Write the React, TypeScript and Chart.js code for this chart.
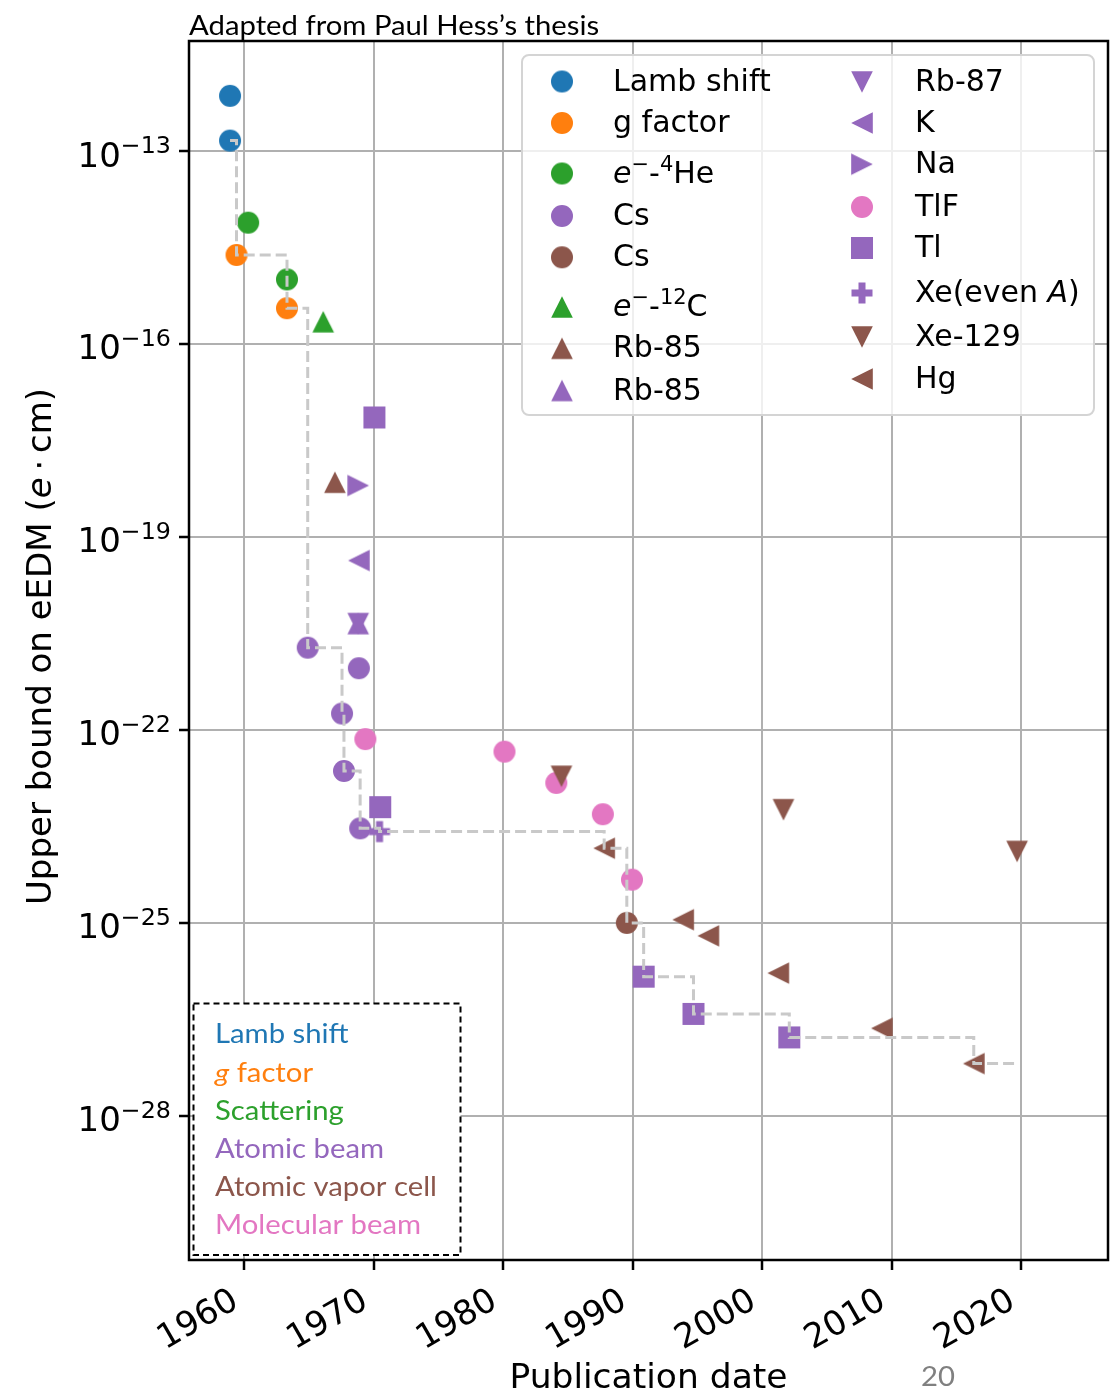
import React, { useEffect, useRef } from 'react';
import { Chart, registerables } from 'chart.js';

Chart.register(...registerables);

// Publication year of each measurement and its upper bound on the eEDM (e·cm)
const LAMB_YEARS = [1958.9, 1958.9];
const LAMB_BOUNDS = [1.45e-13, 7.2e-13];
const GFACTOR_YEARS = [1959.4, 1963.3];
const GFACTOR_BOUNDS = [2.42e-15, 3.6e-16];
const HE4_YEARS = [1960.3, 1963.3];
const HE4_BOUNDS = [7.7e-15, 1.01e-15];
const CS_BEAM_YEARS = [1964.9, 1967.55, 1967.7, 1968.85, 1968.95];
const CS_BEAM_BOUNDS = [1.9e-21, 1.8e-22, 2.3e-23, 9.1e-22, 2.95e-24];
const CS_CELL_YEARS = [1989.55];
const CS_CELL_BOUNDS = [1.0e-25];
const C12_YEARS = [1966.1];
const C12_BOUNDS = [2.22e-16];
const RB85_CELL_YEARS = [1967.0];
const RB85_CELL_BOUNDS = [7.1e-19];
const RB85_BEAM_YEARS = [1968.8];
const RB85_BEAM_BOUNDS = [4.5e-21];
const RB87_YEARS = [1968.8];
const RB87_BOUNDS = [4.5e-21];
const K_YEARS = [1968.85];
const K_BOUNDS = [4.3e-20];
const NA_YEARS = [1968.8];
const NA_BOUNDS = [6.3e-19];
const TLF_YEARS = [1969.35, 1980.1, 1984.1, 1987.7, 1989.95];
const TLF_BOUNDS = [7.2e-23, 4.6e-23, 1.5e-23, 4.9e-24, 4.7e-25];
const TL_YEARS = [1970.05, 1970.5, 1990.85, 1994.7, 2002.1];
const TL_BOUNDS = [7.2e-18, 6.3e-24, 1.46e-26, 3.85e-27, 1.66e-27];
const XE_EVEN_YEARS = [1970.45];
const XE_EVEN_BOUNDS = [2.63e-24];
const XE129_YEARS = [1984.5, 2001.65, 2019.7];
const XE129_BOUNDS = [1.9e-23, 5.75e-24, 1.29e-24];
const HG_YEARS = [1987.8, 1993.9, 1995.85, 2001.25, 2009.25, 2016.35];
const HG_BOUNDS = [1.45e-24, 1.12e-25, 6.3e-26, 1.66e-26, 2.3e-27, 6.5e-28];

// Axis ticks and ranges
const X_TICKS = [1960, 1970, 1980, 1990, 2000, 2010, 2020];
const Y_TICKS = [1e-28, 1e-25, 1e-22, 1e-19, 1e-16, 1e-13];
const X_RANGE = [1955.73, 2026.72];
const Y_RANGE = [5.75e-31, 5.13e-12];

// Method categories (colour key box)
const METHOD_LABELS = ['Lamb shift', '{i:g} factor', 'Scattering', 'Atomic beam', 'Atomic vapor cell', 'Molecular beam'];

const TITLE = 'Adapted from Paul Hess\u2019s thesis';
const X_TITLE = 'Publication date';
const Y_TITLE = 'Upper bound on eEDM ({i:e}\u2009\u22C5\u2009cm)';
const PAGE_NUMBER = '20';

const COL = {
  blue: '#1f77b4',
  orange: '#ff7f0e',
  green: '#2ca02c',
  purple: '#9467bd',
  brown: '#8c564b',
  pink: '#e377c2',
};
const METHOD_COLORS = [COL.blue, COL.orange, COL.green, COL.purple, COL.brown, COL.pink];

// {i:..} italic, {s:..} superscript
const SERIES = [
  { label: 'Lamb shift', years: LAMB_YEARS, bounds: LAMB_BOUNDS, color: COL.blue, marker: 'o' },
  { label: 'g factor', years: GFACTOR_YEARS, bounds: GFACTOR_BOUNDS, color: COL.orange, marker: 'o' },
  { label: '{i:e}{s:\u2212}-{s:4}He', years: HE4_YEARS, bounds: HE4_BOUNDS, color: COL.green, marker: 'o' },
  { label: 'Cs', years: CS_BEAM_YEARS, bounds: CS_BEAM_BOUNDS, color: COL.purple, marker: 'o' },
  { label: 'Cs', years: CS_CELL_YEARS, bounds: CS_CELL_BOUNDS, color: COL.brown, marker: 'o' },
  { label: '{i:e}{s:\u2212}-{s:12}C', years: C12_YEARS, bounds: C12_BOUNDS, color: COL.green, marker: '^' },
  { label: 'Rb-85', years: RB85_CELL_YEARS, bounds: RB85_CELL_BOUNDS, color: COL.brown, marker: '^' },
  { label: 'Rb-85', years: RB85_BEAM_YEARS, bounds: RB85_BEAM_BOUNDS, color: COL.purple, marker: '^' },
  { label: 'Rb-87', years: RB87_YEARS, bounds: RB87_BOUNDS, color: COL.purple, marker: 'v' },
  { label: 'K', years: K_YEARS, bounds: K_BOUNDS, color: COL.purple, marker: '<' },
  { label: 'Na', years: NA_YEARS, bounds: NA_BOUNDS, color: COL.purple, marker: '>' },
  { label: 'TlF', years: TLF_YEARS, bounds: TLF_BOUNDS, color: COL.pink, marker: 'o' },
  { label: 'Tl', years: TL_YEARS, bounds: TL_BOUNDS, color: COL.purple, marker: 's' },
  { label: 'Xe(even {i:A})', years: XE_EVEN_YEARS, bounds: XE_EVEN_BOUNDS, color: COL.purple, marker: 'P' },
  { label: 'Xe-129', years: XE129_YEARS, bounds: XE129_BOUNDS, color: COL.brown, marker: 'v' },
  { label: 'Hg', years: HG_YEARS, bounds: HG_BOUNDS, color: COL.brown, marker: '<' },
];

const FONT = '"DejaVu Sans", sans-serif';
const SLIDE_FONT = 'Lato, "Open Sans", sans-serif';

type Seg = { text: string; italic: boolean; sup: boolean };

function parseRich(s: string): Seg[] {
  const out: Seg[] = [];
  const re = /\{([is]):([^}]*)\}|([^{]+)/g;
  let m: RegExpExecArray | null;
  while ((m = re.exec(s))) {
    if (m[3] !== undefined) out.push({ text: m[3], italic: false, sup: false });
    else out.push({ text: m[2], italic: m[1] === 'i', sup: m[1] === 's' });
  }
  return out;
}

const plainText = (s: string) => parseRich(s).map((p) => p.text).join('');

function richWidth(ctx: CanvasRenderingContext2D, segs: Seg[], size: number, family: string, supScale = 0.7) {
  let w = 0;
  for (const p of segs) {
    ctx.font = `${p.italic ? 'italic ' : ''}${p.sup ? size * supScale : size}px ${family}`;
    w += ctx.measureText(p.text).width;
  }
  return w;
}

function drawRich(
  ctx: CanvasRenderingContext2D,
  segs: Seg[],
  x: number,
  baseline: number,
  size: number,
  family: string,
  supScale = 0.7,
  supRaise = 0.4,
) {
  let cx = x;
  ctx.textAlign = 'left';
  ctx.textBaseline = 'alphabetic';
  for (const p of segs) {
    const fs = p.sup ? size * supScale : size;
    ctx.font = `${p.italic ? 'italic ' : ''}${fs}px ${family}`;
    ctx.fillText(p.text, cx, baseline - (p.sup ? size * supRaise : 0));
    cx += ctx.measureText(p.text).width;
  }
  return cx - x;
}

// Filled marker glyphs in the style of matplotlib's o, s, ^, v, <, >, P
function markerCanvas(shape: string, color: string): HTMLCanvasElement {
  const n = 28;
  const c = document.createElement('canvas');
  c.width = n;
  c.height = n;
  const g = c.getContext('2d') as CanvasRenderingContext2D;
  g.translate(n / 2, n / 2);
  g.fillStyle = color;
  g.beginPath();
  const h = 10.8;
  if (shape === 'o') {
    g.arc(0, 0, 11, 0, Math.PI * 2);
  } else if (shape === 's') {
    g.rect(-11, -11, 22, 22);
  } else if (shape === 'P') {
    const a = 10.5;
    const b = a / 3;
    const pts = [[-b, -a], [b, -a], [b, -b], [a, -b], [a, b], [b, b], [b, a], [-b, a], [-b, b], [-a, b], [-a, -b], [-b, -b]];
    pts.forEach(([px, py], i) => (i ? g.lineTo(px, py) : g.moveTo(px, py)));
  } else {
    const tri: Record<string, number[][]> = {
      '^': [[0, -h], [h, h], [-h, h]],
      v: [[0, h], [h, -h], [-h, -h]],
      '<': [[-h, 0], [h, -h], [h, h]],
      '>': [[h, 0], [-h, -h], [-h, h]],
    };
    tri[shape].forEach(([px, py], i) => (i ? g.lineTo(px, py) : g.moveTo(px, py)));
  }
  g.closePath();
  g.fill();
  return c;
}

// Running best limit, as a post-step line through every publication date
function bestLimitPoints() {
  const all: { x: number; y: number }[] = [];
  SERIES.forEach((s) => s.years.forEach((yr, i) => all.push({ x: yr, y: s.bounds[i] })));
  all.sort((a, b) => a.x - b.x);
  let best = Infinity;
  return all.map((p) => {
    best = Math.min(best, p.y);
    return { x: p.x, y: best };
  });
}

const LEGEND_ROWS = [
  [81.5, 123, 173.5, 216, 257.3, 307, 348.3, 390.5],
  [82, 123, 164.2, 207, 248, 293, 337, 379],
];

const TICK_FONT_SIZE = 34;
const LABEL_FONT_SIZE = 34.5;
const LEGEND_FONT_SIZE = 30;

function makeOverlay(markers: HTMLCanvasElement[]) {
  return {
    id: 'eedmOverlay',
    afterDraw(chart: any) {
      const ctx: CanvasRenderingContext2D = chart.ctx;
      const area = chart.chartArea;
      const xs = chart.scales.x;
      const ys = chart.scales.y;
      ctx.save();

      // axes frame
      ctx.setLineDash([]);
      ctx.strokeStyle = '#000';
      ctx.lineWidth = 2.5;
      ctx.strokeRect(area.left, area.top, area.right - area.left, area.bottom - area.top);

      ctx.fillStyle = '#000';
      // y tick labels as powers of ten
      for (const t of ys.ticks) {
        const py = ys.getPixelForValue(t.value);
        const exp = Math.round(Math.log10(t.value));
        const expText = exp < 0 ? `\u2212${-exp}` : `${exp}`;
        const segs = parseRich(`10{s:${expText}}`);
        const w = richWidth(ctx, segs, TICK_FONT_SIZE, FONT);
        drawRich(ctx, segs, area.left - 18 - w, py + 15.5, TICK_FONT_SIZE, FONT, 0.7, 0.4);
      }

      // x tick labels, rotated 30 degrees and right-aligned to the tick
      const rot = Math.PI / 6;
      const fsx = TICK_FONT_SIZE;
      ctx.font = `${fsx}px ${FONT}`;
      for (const t of xs.ticks) {
        const px = xs.getPixelForValue(t.value);
        const label = String(t.value);
        const w = ctx.measureText(label).width;
        const asc = 0.76 * fsx;
        const desc = 0.24 * fsx;
        const ox = px - (Math.cos(rot) * w + Math.sin(rot) * desc);
        const oy = area.bottom + 24 + Math.sin(rot) * w + Math.cos(rot) * asc;
        ctx.save();
        ctx.translate(ox, oy);
        ctx.rotate(-rot);
        ctx.textAlign = 'left';
        ctx.textBaseline = 'alphabetic';
        ctx.fillText(label, 0, 0);
        ctx.restore();
      }

      // axis titles
      ctx.font = `${LABEL_FONT_SIZE}px ${FONT}`;
      ctx.textAlign = 'center';
      ctx.textBaseline = 'alphabetic';
      ctx.fillText(X_TITLE, (area.left + area.right) / 2, 1388);

      const ySegs = parseRich(Y_TITLE);
      const yw = richWidth(ctx, ySegs, 34, FONT);
      ctx.save();
      ctx.translate(51, (area.top + area.bottom) / 2 - 4 + yw / 2);
      ctx.rotate(-Math.PI / 2);
      drawRich(ctx, ySegs, 0, 0, 34, FONT);
      ctx.restore();

      // series legend
      const lx0 = 522, ly0 = 55, lx1 = 1094, ly1 = 415;
      ctx.beginPath();
      ctx.roundRect(lx0, ly0, lx1 - lx0, ly1 - ly0, 7);
      ctx.fillStyle = 'rgba(255,255,255,0.8)';
      ctx.fill();
      ctx.strokeStyle = '#d4d4d4';
      ctx.lineWidth = 2;
      ctx.stroke();
      SERIES.forEach((s, i) => {
        const col = i < 8 ? 0 : 1;
        const row = i % 8;
        const mx = col ? 862 : 562;
        const tx = col ? 915 : 613;
        const my = LEGEND_ROWS[col][row];
        const img = markers[i];
        ctx.drawImage(img, mx - img.width / 2, my - img.height / 2);
        ctx.fillStyle = '#000';
        drawRich(ctx, parseRich(s.label), tx, my + 9, LEGEND_FONT_SIZE, FONT, 0.7, 0.4);
      });

      // method colour key
      const bx0 = 193.5, by0 = 1003.5, bx1 = 460.5, by1 = 1255;
      ctx.fillStyle = '#fff';
      ctx.fillRect(bx0, by0, bx1 - bx0, by1 - by0);
      ctx.setLineDash([6, 4]);
      ctx.strokeStyle = '#000';
      ctx.lineWidth = 2;
      ctx.strokeRect(bx0, by0, bx1 - bx0, by1 - by0);
      ctx.setLineDash([]);

      const slideSize = 26;
      ctx.font = `${slideSize}px ${SLIDE_FONT}`;
      const k = 222 / ctx.measureText('Atomic vapor cell').width;
      const slideText = (markup: string, x: number, base: number, color: string) => {
        ctx.save();
        ctx.translate(x, base);
        ctx.scale(k, 1);
        ctx.fillStyle = color;
        drawRich(ctx, parseRich(markup), 0, 0, slideSize, SLIDE_FONT);
        ctx.restore();
      };
      METHOD_LABELS.forEach((m, i) => slideText(m, 215, 1043.3 + i * 38.2, METHOD_COLORS[i]));

      slideText(TITLE, 189, 35, '#000');
      slideText(PAGE_NUMBER, 921, 1386, '#808080');

      ctx.restore();
    },
  };
}

export default function App() {
  const ref = useRef<HTMLCanvasElement>(null);

  useEffect(() => {
    const canvas = ref.current;
    if (!canvas) return;
    const markers = SERIES.map((s) => markerCanvas(s.marker, s.color));

    const stepSet: any = {
      type: 'line',
      label: 'Best limit',
      data: bestLimitPoints(),
      borderColor: '#c9c9c9',
      borderWidth: 3,
      borderDash: [11, 5],
      stepped: 'before',
      pointRadius: 0,
      fill: false,
      order: 0,
    };

    const pointSets: any[] = SERIES.map((s, i) => ({
      type: 'scatter',
      label: plainText(s.label),
      data: s.years.map((yr, j) => ({ x: yr, y: s.bounds[j] })),
      pointStyle: markers[i],
      pointRadius: 11,
      pointHoverRadius: 11,
      backgroundColor: s.color,
      borderColor: s.color,
      order: 100 - i,
    }));

    const gridStyle = {
      color: '#b0b0b0',
      lineWidth: 2,
      drawTicks: true,
      tickLength: 10,
      tickColor: '#000',
      tickWidth: 2.5,
    };

    const chart = new Chart(canvas, {
      type: 'scatter',
      data: { datasets: [stepSet, ...pointSets] },
      options: {
        animation: false,
        responsive: false,
        devicePixelRatio: 1,
        events: [],
        layout: { autoPadding: false, padding: { left: 0, top: 41, right: 3, bottom: 0 } },
        plugins: { legend: { display: false }, tooltip: { enabled: false } },
        scales: {
          x: {
            type: 'linear',
            min: X_RANGE[0],
            max: X_RANGE[1],
            bounds: 'data',
            afterBuildTicks: (s: any) => {
              s.ticks = X_TICKS.map((v) => ({ value: v }));
            },
            afterFit: (s: any) => {
              s.height = 132;
            },
            ticks: { display: false },
            grid: gridStyle,
            border: { display: false },
          },
          y: {
            type: 'logarithmic',
            min: Y_RANGE[0],
            max: Y_RANGE[1],
            bounds: 'data',
            afterBuildTicks: (s: any) => {
              s.ticks = Y_TICKS.map((v) => ({ value: v }));
            },
            afterFit: (s: any) => {
              s.width = 189;
            },
            ticks: { display: false },
            grid: gridStyle,
            border: { display: false },
          },
        },
      } as any,
      plugins: [makeOverlay(markers)],
    });

    return () => chart.destroy();
  }, []);

  return (
    <canvas
      ref={ref}
      width={1111}
      height={1392}
      style={{ position: 'absolute', left: 0, top: 0, width: 1111, height: 1392 }}
    />
  );
}
